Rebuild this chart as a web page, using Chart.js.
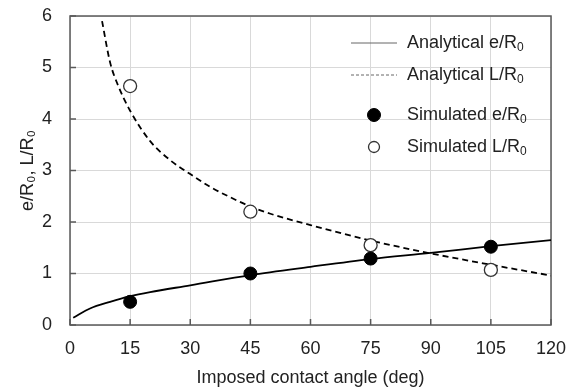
<!DOCTYPE html>
<html>
<head>
<meta charset="utf-8">
<script src="https://cdn.jsdelivr.net/npm/chart.js@4"></script>
<style>
html, body { margin: 0; padding: 0; background: #fff; }
#wrap { width: 576px; height: 390px; }
</style>
</head>
<body>
<div id="wrap"><canvas id="myChart"></canvas></div>
<script>
// simulated points
const angles = [15, 45, 75, 105];
const simE = [0.45, 1.0, 1.29, 1.52];
const simL = [4.64, 2.2, 1.55, 1.07];

// analytical curves
const anaEAngles = [0.8, 5, 10, 15, 20, 30, 45, 60, 75, 90, 105, 120];
const anaE = [0.14, 0.32, 0.45, 0.56, 0.64, 0.77, 0.97, 1.13, 1.28, 1.40, 1.53, 1.65];
const anaLAngles = [8, 10, 12, 15, 20, 25, 30, 35, 40, 45, 50, 60, 75, 90, 105, 120];
const anaL = [5.9, 5.1, 4.65, 4.16, 3.57, 3.2, 2.93, 2.68, 2.48, 2.30, 2.16, 1.94, 1.64, 1.39, 1.17, 0.96];

const legendMain = ['Analytical e/R', 'Analytical L/R', 'Simulated e/R', 'Simulated L/R'];
const legendSub = ['0', '0', '0', '0'];

const FONT = '"Liberation Sans", Arial, sans-serif';

const toPts = (xs, ys) => xs.map((x, i) => ({ x: x, y: ys[i] }));

const data = {
    datasets: [{
        label: 'Analytical e/R0',
        data: toPts(anaEAngles, anaE),
        showLine: true,
        borderColor: '#000',
        borderWidth: 1.8,
        pointRadius: 0,
        cubicInterpolationMode: 'monotone',
        order: 3
    }, {
        label: 'Analytical L/R0',
        data: toPts(anaLAngles, anaL),
        showLine: true,
        borderColor: '#000',
        borderWidth: 1.8,
        borderDash: [6, 4],
        pointRadius: 0,
        cubicInterpolationMode: 'monotone',
        order: 4
    }, {
        label: 'Simulated e/R0',
        data: toPts(angles, simE),
        backgroundColor: '#000',
        borderColor: '#000',
        pointRadius: 6.5,
        pointBorderWidth: 1,
        order: 1
    }, {
        label: 'Simulated L/R0',
        data: toPts(angles, simL),
        backgroundColor: '#fff',
        borderColor: '#333',
        pointRadius: 6.5,
        pointBorderWidth: 1.3,
        order: 2
    }]
};

function subText(ctx, x, y, main, sub) {
    ctx.font = '18px ' + FONT;
    ctx.fillText(main, x, y);
    const w = ctx.measureText(main).width;
    ctx.font = '12px ' + FONT;
    ctx.fillText(sub, x + w, y + 5);
}

const framePlugin = {
    id: 'frame',
    beforeDatasetsDraw(chart) {
        const { ctx, chartArea: a, scales: { x, y } } = chart;
        ctx.save();
        ctx.strokeStyle = '#595959';
        ctx.lineWidth = 1.5;
        ctx.beginPath();
        x.ticks.forEach(t => {
            const px = x.getPixelForValue(t.value);
            ctx.moveTo(px, a.bottom);
            ctx.lineTo(px, a.bottom - 6);
        });
        y.ticks.forEach(t => {
            const py = y.getPixelForValue(t.value);
            ctx.moveTo(a.left, py);
            ctx.lineTo(a.left + 6, py);
        });
        ctx.stroke();
        ctx.strokeRect(a.left, a.top, a.width, a.height);
        ctx.restore();
    },
    afterDraw(chart) {
        const { ctx, chartArea: a } = chart;
        const rows = [27, 59, 99, 131];
        const x0 = a.right - 200, x1 = a.right - 154, xm = a.right - 177, xt = a.right - 144;
        ctx.save();
        ctx.textBaseline = 'middle';
        ctx.textAlign = 'left';
        rows.forEach((r, i) => {
            const yy = a.top + r;
            const ds = chart.data.datasets[i];
            if (i < 2) {
                ctx.strokeStyle = '#666';
                ctx.lineWidth = 1;
                ctx.setLineDash(i === 1 ? [3, 2] : []);
                ctx.beginPath();
                ctx.moveTo(x0, yy);
                ctx.lineTo(x1, yy);
                ctx.stroke();
                ctx.setLineDash([]);
            } else {
                ctx.fillStyle = ds.backgroundColor;
                ctx.strokeStyle = ds.borderColor;
                ctx.lineWidth = ds.pointBorderWidth;
                ctx.beginPath();
                ctx.arc(xm, yy, i === 2 ? 6.5 : 5.5, 0, Math.PI * 2);
                ctx.fill();
                ctx.stroke();
            }
            ctx.fillStyle = '#222';
            subText(ctx, xt, yy, legendMain[i], legendSub[i]);
        });
        ctx.restore();
    }
};

const config = {
    type: 'scatter',
    data: data,
    options: {
        responsive: true,
        maintainAspectRatio: false,
        animation: false,
        layout: { padding: { top: 16, right: 25, left: 0, bottom: 0 } },
        plugins: { legend: { display: false }, tooltip: { enabled: false } },
        scales: {
            x: {
                type: 'linear',
                min: 0,
                max: 120,
                ticks: { stepSize: 15, padding: 13, color: '#222', font: { family: FONT, size: 18 } },
                grid: { color: '#d9d9d9', lineWidth: 1, drawTicks: false },
                border: { display: false },
                title: { display: true, text: 'Imposed contact angle (deg)', color: '#222',
                    font: { family: FONT, size: 18 }, padding: { top: 0, bottom: 1 } },
                afterFit: s => { s.height = 65; s.paddingLeft = 0; s.paddingRight = 0; }
            },
            y: {
                type: 'linear',
                min: 0,
                max: 6,
                ticks: { stepSize: 1, padding: 18, color: '#222', font: { family: FONT, size: 18 } },
                grid: { color: '#d9d9d9', lineWidth: 1, drawTicks: false },
                border: { display: false },
                title: { display: true, text: 'e/R₀, L/R₀', color: '#222',
                    font: { family: FONT, size: 18 }, padding: { top: 17, bottom: 0 } },
                afterFit: s => { s.width = 70; s.paddingTop = 0; s.paddingBottom = 0; }
            }
        }
    },
    plugins: [framePlugin]
};

// eslint-disable-next-line
const myChart = new Chart(document.getElementById('myChart'), config);
</script>
</body>
</html>
